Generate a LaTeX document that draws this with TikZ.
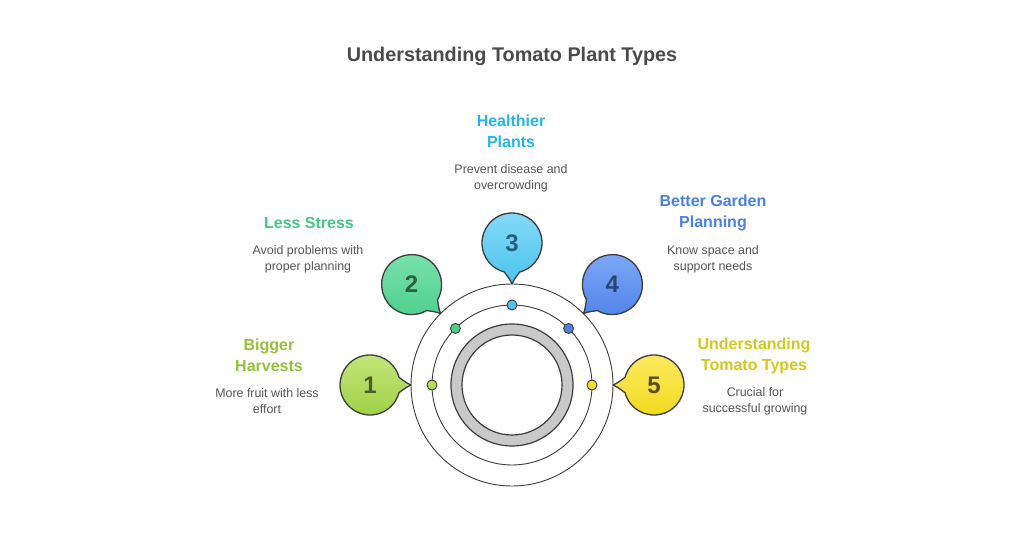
\documentclass[tikz,border=0pt]{standalone}
\usepackage{fontspec}
\setmainfont{Liberation Sans}
\usetikzlibrary{calc}
\definecolor{linec}{HTML}{3D3D3D}
\definecolor{ringgray}{HTML}{C9C9C9}
\definecolor{titlec}{HTML}{4A4A4A}
\definecolor{descc}{HTML}{555555}
\definecolor{gtop}{HTML}{C4E77C}\definecolor{gbot}{HTML}{9ED044}\definecolor{gnum}{HTML}{4A5E26}\definecolor{gdot}{HTML}{B4DC5A}\definecolor{ghead}{HTML}{95C13A}
\definecolor{mtop}{HTML}{7BE2AE}\definecolor{mbot}{HTML}{4FD08E}\definecolor{mnum}{HTML}{2D5E47}\definecolor{mdot}{HTML}{4FCF8E}\definecolor{mhead}{HTML}{45C588}
\definecolor{stop}{HTML}{86DAF8}\definecolor{sbot}{HTML}{4CC4EE}\definecolor{snum}{HTML}{24607A}\definecolor{sdot}{HTML}{4CC4EE}\definecolor{shead}{HTML}{28B4E4}
\definecolor{btop}{HTML}{80A9F7}\definecolor{bbot}{HTML}{4F84EA}\definecolor{bnum}{HTML}{2A4575}\definecolor{bdot}{HTML}{4F7EE8}\definecolor{bhead}{HTML}{4A80E0}
\definecolor{ytop}{HTML}{FCEB62}\definecolor{ybot}{HTML}{F3D91C}\definecolor{ynum}{HTML}{5A5020}\definecolor{ydot}{HTML}{F5DD30}\definecolor{yhead}{HTML}{D4C81C}
\begin{document}
\begin{tikzpicture}[x=1pt,y=1pt,
  ringline/.style={draw=linec, line width=0.9pt},
  bubble/.style={draw=linec, line width=1.3pt, line join=round},
  numtext/.style={font=\fontsize{24}{24}\selectfont\bfseries},
  dotnode/.style={circle, draw=linec, line width=0.9pt, minimum size=10pt, inner sep=0pt},
  head/.style={font=\fontsize{16}{21}\selectfont\bfseries, align=center, inner sep=0pt},
  desc/.style={font=\fontsize{12.4}{16}\selectfont, text=descc, align=center, inner sep=0pt}]
\useasboundingbox[fill=white] (0,0) rectangle (1024,538);
\node[font=\fontsize{19.8}{24}\selectfont\bfseries, text=titlec, inner sep=0pt] (title) at (512,482) {Understanding Tomato Plant Types};
\coordinate (C) at (512,153);
\draw[ringline] (C) circle[radius=101pt];
\draw[ringline] (C) circle[radius=80pt];
\path[fill=ringgray, even odd rule] (C) circle[radius=61pt] (C) circle[radius=50pt];
\draw[draw=linec, line width=1.2pt] (C) circle[radius=61pt] (C) circle[radius=50pt];
\foreach \a/\n/\k in {180/1/g, 135/2/m, 90/3/s, 45/4/b, 0/5/y}{
  \draw[bubble, top color=\k top, bottom color=\k bot]
    ($(C)+(\a:142pt)+(\a+195:30pt)$) arc[start angle=\a+195, delta angle=330, radius=30pt]
    .. controls ($(C)+(\a:142pt)+(\a+176:36pt)$) .. ($(C)+(\a:101pt)$)
    .. controls ($(C)+(\a:142pt)+(\a+184:36pt)$) .. cycle;
  \node[numtext, text=\k num] (n\n) at ($(C)+(\a:142pt)$) {\n};
  \node[dotnode, fill=\k dot] (d\n) at ($(C)+(\a:80pt)$) {};
}
\node[head, text=shead] (h3) at (511,406.5) {Healthier\\Plants};
\node[desc] (t3) at (511,360) {Prevent disease and\\overcrowding};
\node[head, text=mhead] (h2) at (309,315) {Less Stress};
\node[desc] (t2) at (308,279) {Avoid problems with\\proper planning};
\node[head, text=ghead] (h1) at (269,182.5) {Bigger\\Harvests};
\node[desc] (t1) at (267,137) {More fruit with less\\effort};
\node[head, text=bhead] (h4) at (713,325) {Better Garden\\Planning};
\node[desc] (t4) at (713,279) {Know space and\\support needs};
\node[head, text=yhead] (h5) at (754,182.5) {Understanding\\Tomato Types};
\node[desc] (t5) at (755,137) {Crucial for\\successful growing};
\end{tikzpicture}
\end{document}
